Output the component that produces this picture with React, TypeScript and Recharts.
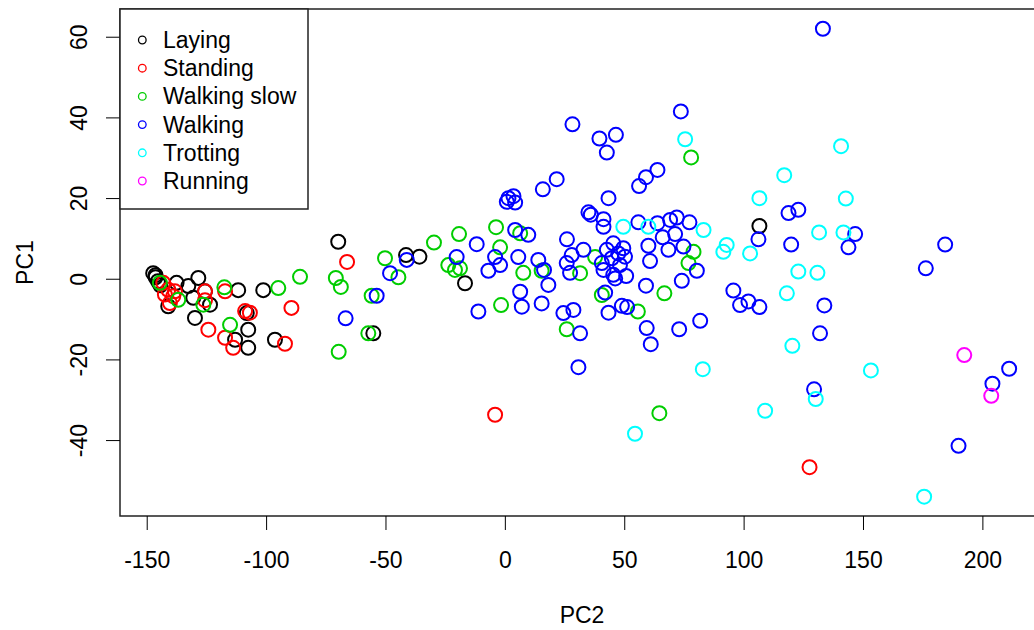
import React from 'react';
import { ScatterChart, Scatter, XAxis, YAxis, ReferenceArea, Label } from 'recharts';

const laying: [number, number][] = [
  [-147.5, 1.5], [-146.5, 0.5], [-145.5, -0.5], [-144.5, -1.5], [-146.5, 1.0],
  [-137.7, -0.9], [-132.8, -1.7], [-128.6, 0.3], [-125.8, -3.0], [-123.7, -6.3],
  [-130.7, -4.6], [-141.2, -6.7], [-130.0, -9.6], [-111.9, -2.7], [-101.4, -2.7],
  [-108.3, -8.4], [-107.7, -12.5], [-113.2, -15.0], [-107.7, -17.0], [-96.5, -15.0],
  [-70.0, 9.3], [-55.3, -13.4], [-41.6, 6.0], [-36.0, 5.6], [-16.9, -1.0], [106.4, 13.2],
];

const standing: [number, number][] = [
  [-143.3, -0.9], [-141.2, -2.6], [-139.1, -4.2], [-142.6, -3.8], [-138.4, -3.0],
  [-140.5, -5.9], [-125.8, -3.0], [-125.8, -5.2], [-117.4, -3.0], [-124.4, -12.5],
  [-109.0, -7.9], [-117.4, -14.5], [-114.0, -17.0], [-107.0, -8.3], [-89.6, -7.1],
  [-66.3, 4.3], [-92.3, -16.0], [-4.3, -33.6], [127.4, -46.6],
];

const walkingSlow: [number, number][] = [
  [-144.7, -0.9], [-137.0, -5.1], [-126.5, -6.3], [-117.7, -2.0], [-115.3, -11.3],
  [-95.1, -2.2], [-86.0, 0.6], [-71.0, 0.3], [-68.9, -1.9], [-69.8, -18.0],
  [-50.4, 5.2], [-44.8, 0.5], [-56.0, -4.1], [-57.4, -13.4], [-29.9, 9.1],
  [-19.4, 11.2], [-3.9, 12.9], [-23.9, 3.5], [-21.1, 2.3], [-19.0, 2.7],
  [-2.2, 7.9], [6.2, 11.4], [7.5, 1.6], [15.2, 2.1], [-1.8, -6.4],
  [25.7, -12.4], [37.6, 5.5], [31.3, 1.5], [76.7, 4.0], [78.8, 6.8],
  [40.4, -3.9], [66.6, -3.5], [55.5, -8.0], [64.5, -33.2], [77.8, 30.2],
];

const walking: [number, number][] = [
  [133.0, 62.1],
  [73.5, 41.6], [28.1, 38.4], [39.4, 34.9], [46.3, 35.8], [42.5, 31.4],
  [63.7, 27.1], [58.9, 25.3], [56.0, 23.1], [21.5, 24.8], [15.7, 22.3],
  [1.3, 20.1], [3.4, 20.6], [4.1, 19.0], [0.6, 19.2],
  [43.2, 20.1], [34.8, 16.6], [35.8, 16.0], [41.1, 14.9], [41.1, 13.0],
  [55.7, 14.1], [63.7, 13.9], [69.0, 14.7], [71.8, 15.3], [77.1, 14.1],
  [71.1, 11.2], [65.9, 10.4], [59.9, 8.3], [68.3, 7.3], [74.6, 8.1],
  [60.6, 4.5], [80.2, 2.1], [73.9, -0.4], [58.9, -1.6],
  [25.8, 9.9], [32.7, 7.3], [27.8, 6.0], [27.1, 1.6], [25.7, 4.0],
  [45.2, 8.9], [49.4, 7.7], [42.5, 7.3], [47.3, 6.4], [50.1, 5.6], [44.6, 5.2],
  [48.0, 3.5], [41.1, 2.3], [40.4, 4.0], [45.2, 1.1], [50.6, 0.8], [46.0, 0.2],
  [41.8, -3.3], [48.8, -6.6], [51.0, -6.9], [43.2, -8.3],
  [28.5, -7.6], [24.3, -8.4], [31.3, -13.4], [59.2, -12.1], [60.9, -16.1],
  [72.8, -12.4], [81.6, -10.3], [30.6, -21.8],
  [95.5, -2.8], [98.3, -6.4], [101.8, -5.5], [106.4, -6.9], [106.0, 9.9],
  [118.6, 16.4], [122.7, 17.2], [119.7, 8.6], [146.5, 11.2], [143.7, 7.9],
  [184.2, 8.6], [176.1, 2.7], [133.6, -6.5], [131.8, -13.4], [129.3, -27.3],
  [211.0, -22.2], [204.0, -25.9], [189.8, -41.3],
  [4.1, 12.2], [9.6, 11.0],
  [-12.0, 8.7], [-20.4, 5.5], [-4.3, 5.5], [-2.2, 3.5], [-7.1, 2.1],
  [5.4, 5.5], [13.8, 4.8], [16.2, 2.3], [18.0, -1.4], [6.2, -3.1],
  [6.9, -6.8], [15.2, -6.0], [-11.3, -8.0],
  [-48.3, 1.5], [-53.9, -4.1], [-66.9, -9.7], [-41.3, 4.8],
];

const trotting: [number, number][] = [
  [75.3, 34.7], [116.8, 25.8], [106.4, 20.1], [140.6, 33.0], [142.6, 20.0],
  [131.4, 11.6], [141.6, 11.6], [122.7, 1.9], [130.7, 1.6], [117.9, -3.5],
  [120.2, -16.5], [153.1, -22.6], [130.0, -29.7], [175.4, -53.9], [82.7, -22.3],
  [54.3, -38.3], [108.8, -32.6], [49.4, 13.0], [59.9, 13.0], [83.0, 12.2],
  [92.7, 8.5], [91.3, 6.8], [102.5, 6.4],
];

const running: [number, number][] = [
  [192.2, -18.8], [203.5, -28.9],
];

const categoryNames = ['Laying', 'Standing', 'Walking slow', 'Walking', 'Trotting', 'Running'];
const categoryColors = ['#000000', '#FF0000', '#00CD00', '#0000FF', '#00FFFF', '#FF00FF'];
const categoryPoints = [laying, standing, walkingSlow, walking, trotting, running];

const xTicks = [-150, -100, -50, 0, 50, 100, 150, 200];
const yTicks = [-40, -20, 0, 20, 40, 60];
const xDomain: [number, number] = [-161.4, 225.6];
const yDomain: [number, number] = [-58.7, 67.0];

const FONT = '"Liberation Sans", Arial, Helvetica, sans-serif';
const FS = 23;

const series = categoryNames.map((name, i) => ({
  name,
  color: categoryColors[i],
  data: categoryPoints[i].map(([x, y]) => ({ x, y })),
}));

const XTick = (props: any) => {
  const { x, payload } = props;
  return (
    <text x={x} y={568} textAnchor="middle" fontFamily={FONT} fontSize={FS} fill="#000">
      {String(payload.value)}
    </text>
  );
};

const YTick = (props: any) => {
  const { y, payload } = props;
  return (
    <text
      x={87}
      y={y}
      transform={`rotate(-90 87 ${y})`}
      textAnchor="middle"
      fontFamily={FONT}
      fontSize={FS}
      fill="#000"
    >
      {String(payload.value)}
    </text>
  );
};

const ring = (color: string) => (props: any) => (
  <circle cx={props.cx} cy={props.cy} r={7} fill="none" stroke={color} strokeWidth={2} />
);

export default function App() {
  return (
    <div
      style={{
        position: 'absolute',
        left: 0,
        top: 0,
        width: 1034,
        height: 630,
        overflow: 'hidden',
        background: '#fff',
      }}
    >
      <ScatterChart width={1054} height={630} margin={{ top: 9, right: 10, left: 0, bottom: 0 }}>
        <XAxis
          type="number"
          dataKey="x"
          domain={xDomain}
          ticks={xTicks}
          interval={0}
          allowDataOverflow
          height={114}
          axisLine={false}
          tickLine={{ stroke: '#000', strokeWidth: 1 }}
          tickSize={14}
          tick={<XTick />}
        >
          <Label
            content={(p: any) => (
              <text
                x={p.viewBox.x + p.viewBox.width / 2}
                y={623}
                textAnchor="middle"
                fontFamily={FONT}
                fontSize={FS}
                fill="#000"
              >
                PC2
              </text>
            )}
          />
        </XAxis>
        <YAxis
          type="number"
          dataKey="y"
          domain={yDomain}
          ticks={yTicks}
          interval={0}
          allowDataOverflow
          width={120}
          axisLine={false}
          tickLine={{ stroke: '#000', strokeWidth: 1 }}
          tickSize={14}
          tick={<YTick />}
        >
          <Label
            content={(p: any) => {
              const cy = p.viewBox.y + p.viewBox.height / 2;
              return (
                <text
                  x={33}
                  y={cy}
                  transform={`rotate(-90 33 ${cy})`}
                  textAnchor="middle"
                  fontFamily={FONT}
                  fontSize={FS}
                  fill="#000"
                >
                  PC1
                </text>
              );
            }}
          />
        </YAxis>
        <ReferenceArea
          x1={xDomain[0]}
          x2={xDomain[1]}
          y1={yDomain[0]}
          y2={yDomain[1]}
          fill="none"
          fillOpacity={0}
          stroke="#222"
          strokeWidth={1.5}
        />
        {series.map((s) => (
          <Scatter
            key={s.name}
            name={s.name}
            data={s.data}
            isAnimationActive={false}
            shape={ring(s.color)}
          />
        ))}
      </ScatterChart>
      <svg
        width={1034}
        height={630}
        style={{ position: 'absolute', left: 0, top: 0, pointerEvents: 'none' }}
      >
        <rect x={120} y={9} width={188} height={200} fill="#fff" stroke="#222" strokeWidth={1.5} />
        {series.map((s, i) => {
          const cy = 40 + i * 28.2;
          return (
            <g key={s.name}>
              <circle cx={142.3} cy={cy} r={3.8} fill="none" stroke={s.color} strokeWidth={1.3} />
              <text x={163} y={cy + 8} fontFamily={FONT} fontSize={FS} fill="#000">
                {s.name}
              </text>
            </g>
          );
        })}
      </svg>
    </div>
  );
}
